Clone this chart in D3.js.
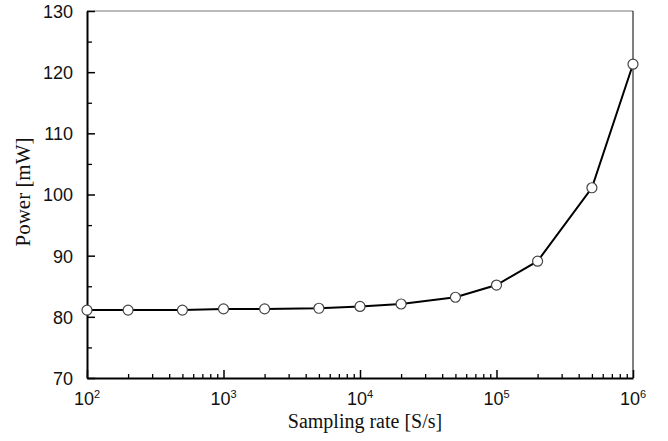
<!DOCTYPE html>
<html><head><meta charset="utf-8">
<script src="https://cdn.jsdelivr.net/npm/d3@7"></script>
<style>body{margin:0;background:#fff}svg{display:block}</style>
</head><body>
<svg id="c" width="668" height="441"></svg>
<script>
const rates = [100, 200, 500, 1000, 2000, 5000, 10000, 20000, 50000, 100000, 200000, 500000, 1000000];
const power = [81.1, 81.1, 81.1, 81.3, 81.3, 81.4, 81.7, 82.1, 83.2, 85.2, 89.1, 101.1, 121.3];
const yTicks = [70, 80, 90, 100, 110, 120, 130];
const yMinor = [75, 85, 95, 105, 115, 125];
const xExponents = [2, 3, 4, 5, 6];
const xTitle = "Sampling rate [S/s]";
const yTitle = "Power [mW]";

const svg = d3.select("#c");
const L = 87, R = 633, T = 11, B = 378;
const x = d3.scaleLog().domain([100, 1e6]).range([L, R]);
const y = d3.scaleLinear().domain([70, 130]).range([B, T]);

// frame: top and right
svg.append("line").attr("x1", L).attr("x2", R).attr("y1", T).attr("y2", T)
  .attr("stroke", "#777").attr("stroke-width", 1);
svg.append("line").attr("x1", R).attr("x2", R).attr("y1", T).attr("y2", B)
  .attr("stroke", "#000").attr("stroke-width", 1);

// minor x ticks
const xMinor = [];
for (let e = 2; e < 6; e++) for (let m = 2; m <= 9; m++) xMinor.push(m * Math.pow(10, e));
const gx = svg.append("g").attr("transform", `translate(0,${B})`);
gx.call(d3.axisBottom(x).tickValues(xMinor).tickSize(-4).tickFormat(""))
  .call(g => g.select(".domain").remove())
  .selectAll("line").attr("stroke", "#000").attr("stroke-width", 1.3);
const gx2 = svg.append("g").attr("transform", `translate(0,${B})`);
gx2.call(d3.axisBottom(x).tickValues(xExponents.map(e => Math.pow(10, e))).tickSizeInner(-8).tickSizeOuter(0).tickFormat(""))
  .call(g => g.select(".domain").attr("stroke", "#000").attr("stroke-width", 2))
  .selectAll("line").attr("stroke", "#000").attr("stroke-width", 1.5);

// x tick labels
const xl = svg.append("g");
xExponents.forEach(e => {
  const t = xl.append("text").attr("x", x(Math.pow(10, e))).attr("y", 405)
    .attr("text-anchor", "middle").attr("font-family", "Liberation Sans, Arial, sans-serif")
    .attr("font-size", 18).attr("fill", "#111");
  t.append("tspan").text("10");
  t.append("tspan").attr("dy", -7).attr("font-size", 11).text(e);
});

// y axis
const gy = svg.append("g").attr("transform", `translate(${L},0)`);
gy.call(d3.axisLeft(y).tickValues(yMinor).tickSize(-5).tickFormat(""))
  .call(g => g.select(".domain").remove())
  .selectAll("line").attr("stroke", "#000").attr("stroke-width", 1.3);
const gy2 = svg.append("g").attr("transform", `translate(${L},0)`);
gy2.call(d3.axisLeft(y).tickValues(yTicks).tickSizeInner(-8).tickSizeOuter(0).tickPadding(14))
  .call(g => g.select(".domain").attr("stroke", "#000").attr("stroke-width", 2))
  .call(g => g.selectAll("line").attr("stroke", "#000").attr("stroke-width", 1.5))
  .call(g => g.selectAll("text").attr("font-family", "Liberation Sans, Arial, sans-serif")
    .attr("font-size", 18).attr("fill", "#111").attr("x", -14).attr("dy", "0.36em"));

// titles
svg.append("text").attr("x", 365).attr("y", 428).attr("text-anchor", "middle")
  .attr("font-family", "Liberation Serif, Times New Roman, serif").attr("font-size", 20)
  .attr("fill", "#111").text(xTitle);
svg.append("text").attr("transform", "translate(30,192) rotate(-90)").attr("text-anchor", "middle")
  .attr("font-family", "Liberation Serif, Times New Roman, serif").attr("font-size", 21)
  .attr("fill", "#111").text(yTitle);

// line
const pts = rates.map((r, i) => [r, power[i]]);
svg.append("path").datum(pts)
  .attr("d", d3.line().x(d => x(d[0])).y(d => y(d[1])))
  .attr("fill", "none").attr("stroke", "#000").attr("stroke-width", 2);
svg.append("g").selectAll("circle").data(pts).join("circle")
  .attr("cx", d => x(d[0])).attr("cy", d => y(d[1])).attr("r", 5)
  .attr("fill", "#fff").attr("stroke", "#444").attr("stroke-width", 1.2);
</script>
</body></html>
